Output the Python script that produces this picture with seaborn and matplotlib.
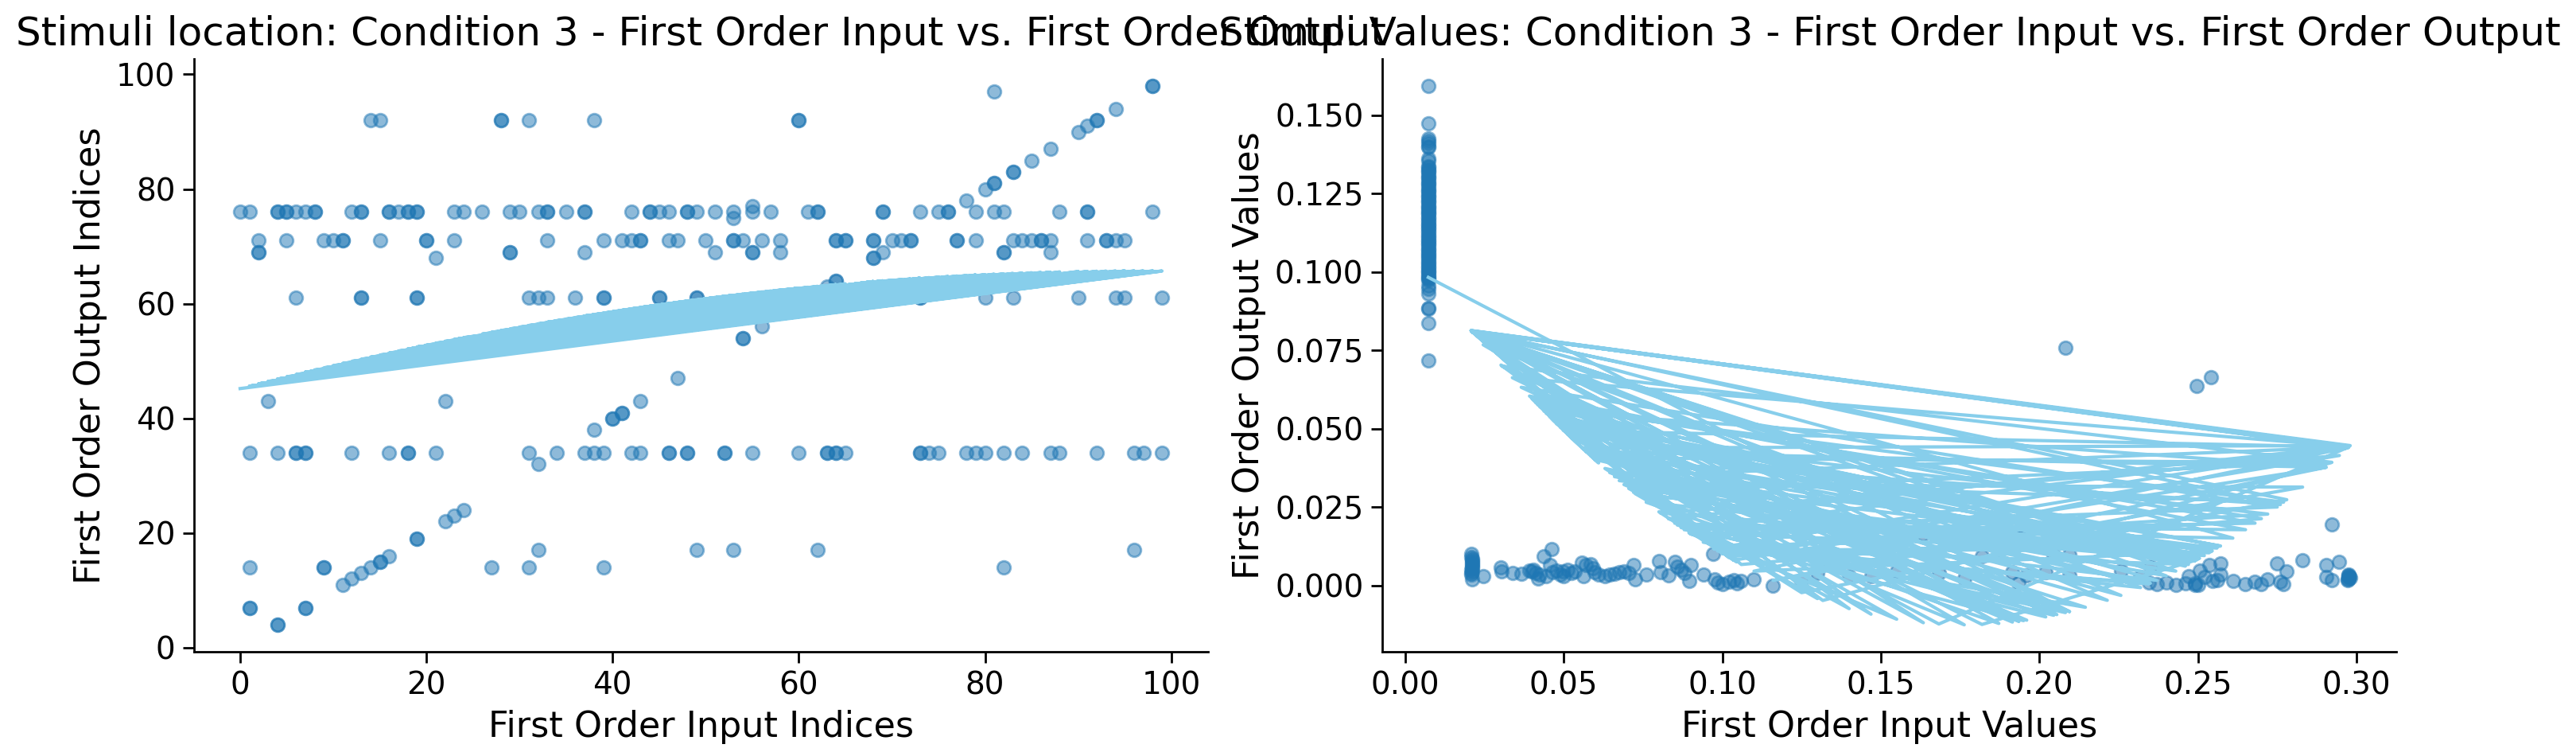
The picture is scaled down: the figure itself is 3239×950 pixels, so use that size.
import numpy as np
import matplotlib
matplotlib.use("Agg")
import matplotlib.pyplot as plt
import seaborn as sns

# ---- Левая панель: индексы (вход -> выход) ----
# строки с одинаковым выходным индексом: входные индексы
out_idx_92 = [14, 15, 28, 28, 31, 38, 60, 60]
out_idx_76 = [0, 1, 4, 4, 5, 5, 6, 7, 8, 8, 12, 13, 13, 16, 16, 17, 18, 18, 19, 19,
              23, 24, 26, 29, 30, 32, 33, 33, 35, 37, 37, 42, 44, 44, 45, 46, 48, 48,
              49, 51, 53, 55, 57, 61, 62, 62, 69, 69, 73, 75, 76, 76, 79, 81, 82, 88,
              91, 91, 98]
out_idx_71 = [2, 5, 9, 10, 11, 11, 15, 20, 20, 23, 33, 39, 41, 42, 43, 43, 46, 47, 50,
              53, 53, 54, 56, 58, 64, 64, 65, 65, 68, 68, 70, 71, 72, 72, 77, 77, 79,
              83, 84, 85, 86, 86, 87, 91, 93, 93, 94, 95]
out_idx_69 = [2, 2, 29, 29, 37, 51, 55, 55, 58, 69, 82, 82, 87]
out_idx_61 = [6, 13, 13, 19, 19, 31, 32, 33, 36, 39, 39, 45, 45, 49, 49, 56, 73, 73,
              80, 83, 90, 94, 95, 99]
out_idx_34 = [1, 4, 6, 6, 7, 7, 12, 16, 18, 18, 21, 31, 34, 37, 38, 39, 42, 43, 46, 46,
              48, 48, 52, 52, 55, 60, 63, 63, 64, 64, 65, 73, 73, 74, 75, 78, 79, 80,
              82, 84, 87, 88, 92, 96, 97, 99]
# точки на диагонали (выход == вход)
diag_idx = [4, 4, 7, 7, 11, 12, 13, 14, 15, 15, 16, 19, 19, 22, 23, 24, 32, 38, 40, 40,
            41, 41, 43, 47, 54, 54, 56, 59, 63, 64, 64, 68, 68, 78, 80, 81, 81, 83, 83,
            85, 87, 90, 91, 92, 92, 94, 98, 98]
# отдельные точки
misc_in_idx = [1, 1, 9, 9, 1, 27, 31, 39, 82, 32, 49, 53, 62, 96, 3, 22, 81, 53, 55, 21]
misc_out_idx = [7, 7, 14, 14, 14, 14, 14, 14, 14, 17, 17, 17, 17, 17, 43, 43, 97, 75, 77, 68]

# коэффициенты полинома (2-я степень) для индексов
idx_fit = [-0.00217, 0.422, 45.2]

# ---- Правая панель: значения ----
col_in_val = 0.0073
col_out_val = [0.1593, 0.1473, 0.1426, 0.1418, 0.1409, 0.1401, 0.1397, 0.1363, 0.1354,
               0.1337, 0.1334, 0.1326, 0.1321, 0.1318, 0.1309, 0.1302, 0.1300, 0.1291,
               0.1283, 0.1280, 0.1272, 0.1266, 0.1259, 0.1257, 0.1248, 0.1241, 0.1239,
               0.1230, 0.1224, 0.1221, 0.1213, 0.1207, 0.1205, 0.1196, 0.1192, 0.1186,
               0.1183, 0.1175, 0.1171, 0.1163, 0.1160, 0.1152, 0.1149, 0.1141, 0.1139,
               0.1130, 0.1127, 0.1119, 0.1112, 0.1108, 0.1101, 0.1097, 0.1090, 0.1088,
               0.1079, 0.1072, 0.1070, 0.1063, 0.1058, 0.1051, 0.1046, 0.1043, 0.1034,
               0.1030, 0.1024, 0.1017, 0.1015, 0.1006, 0.1001, 0.0998, 0.0992, 0.0987,
               0.0981, 0.0978, 0.0973, 0.0956, 0.0946, 0.0931, 0.0886, 0.0882, 0.0837,
               0.0717]

low_in_val = [0.2095, 0.0210, 0.1469, 0.0500, 0.2975, 0.0208, 0.2975, 0.0660, 0.2400, 0.0212,
              0.1935, 0.0366, 0.2750, 0.0880, 0.2972, 0.0210, 0.2975, 0.1683, 0.0456, 0.2570,
              0.1000, 0.0209, 0.2214, 0.0592, 0.2921, 0.1317, 0.0302, 0.2045, 0.0830, 0.2978,
              0.0211, 0.1872, 0.0760, 0.2490, 0.0412, 0.2700, 0.1060, 0.0210, 0.2980, 0.0558,
              0.2145, 0.0940, 0.2319, 0.0246, 0.1763, 0.0690, 0.2830, 0.1160, 0.2904, 0.0438,
              0.2082, 0.0870, 0.2610, 0.0208, 0.2055, 0.0525, 0.1915, 0.0338, 0.2976, 0.0972,
              0.2345, 0.0630, 0.1250, 0.2780, 0.0211, 0.1634, 0.0478, 0.2520, 0.0805, 0.2946,
              0.1020, 0.0209, 0.2257, 0.0585, 0.2496, 0.1819, 0.0400, 0.2680, 0.0900, 0.1950,
              0.0305, 0.2922, 0.0720, 0.2430, 0.0210, 0.2973, 0.1100, 0.2541, 0.0461, 0.1960,
              0.0645, 0.2560, 0.0850, 0.2370, 0.0418, 0.2095, 0.0512, 0.2720, 0.0975, 0.2470,
              0.0212, 0.1935, 0.0570, 0.2904, 0.1035, 0.0392, 0.2650, 0.0858, 0.2020, 0.0445,
              0.2505, 0.0705, 0.1400, 0.0208, 0.2760, 0.0598, 0.2350, 0.0985, 0.2571, 0.0498,
              0.1550, 0.0895, 0.2535, 0.0425, 0.2770, 0.0675, 0.2545, 0.0562, 0.2500, 0.0490,
              0.2460, 0.0210, 0.1300, 0.0725, 0.2490, 0.0800, 0.1045, 0.0465, 0.0610, 0.0535,
              0.0405]
low_out_val = [0.0033, 0.0080, 0.0030, 0.0030, 0.0030, 0.0100, 0.0022, 0.0038, 0.0010, 0.0060,
               0.0175, 0.0037, 0.0071, 0.0040, 0.0018, 0.0045, 0.0035, 0.0040, 0.0066, 0.0071,
               0.0005, 0.0090, 0.0145, 0.0056, 0.0018, 0.0068, 0.0058, 0.0097, 0.0033, 0.0028,
               0.0070, 0.0114, 0.0036, 0.0006, 0.0040, 0.0004, 0.0014, 0.0055, 0.0025, 0.0072,
               0.0140, 0.0036, 0.0028, 0.0030, 0.0023, 0.0046, 0.0080, 0.0000, 0.0028, 0.0093,
               0.0759, 0.0050, 0.0015, 0.0040, 0.0152, 0.0040, 0.0043, 0.0039, 0.0032, 0.0101,
               0.0010, 0.0030, 0.0015, 0.0044, 0.0085, 0.0165, 0.0048, 0.0028, 0.0043, 0.0076,
               0.0012, 0.0035, 0.0048, 0.0068, 0.0636, 0.0093, 0.0044, 0.0012, 0.0065, 0.0160,
               0.0046, 0.0194, 0.0065, 0.0003, 0.0075, 0.0020, 0.0019, 0.0664, 0.0117, 0.0033,
               0.0034, 0.0017, 0.0075, 0.0005, 0.0022, 0.0097, 0.0050, 0.0020, 0.0020, 0.0030,
               0.0065, 0.0006, 0.0064, 0.0065, 0.0018, 0.0048, 0.0004, 0.0060, 0.0043, 0.0030,
               0.0048, 0.0040, 0.0030, 0.0050, 0.0012, 0.0042, 0.0060, 0.0010, 0.0035, 0.0044,
               0.0045, 0.0014, 0.0065, 0.0035, 0.0005, 0.0042, 0.0015, 0.0030, 0.0002, 0.0036,
               0.0008, 0.0020, 0.0040, 0.0020, 0.0003, 0.0077, 0.0008, 0.0042, 0.0036, 0.0046,
               0.0050]

# коэффициенты полинома (2-я степень) для значений
val_fit = [3.87, -1.366, 0.1080]

point_color = "#1f77b4"
fit_color = "skyblue"

# Сборка массивов
idx_rows = [(92, out_idx_92), (76, out_idx_76), (71, out_idx_71), (69, out_idx_69),
            (61, out_idx_61), (34, out_idx_34)]
idx_in = np.concatenate([np.array(r, dtype=float) for _, r in idx_rows]
                        + [np.array(diag_idx, float), np.array(misc_in_idx, float)])
idx_out = np.concatenate([np.full(len(r), v, dtype=float) for v, r in idx_rows]
                         + [np.array(diag_idx, float), np.array(misc_out_idx, float)])

# порядок следования выборок для линии (чередование краёв)
srt = np.sort(idx_in)
lo, hi = 0, len(srt) - 1
line_idx_x = []
while lo <= hi:
    line_idx_x.append(srt[lo])
    if lo != hi:
        line_idx_x.append(srt[hi])
    lo += 1
    hi -= 1
line_idx_x = np.array(line_idx_x)

val_in = np.concatenate([np.full(len(col_out_val), col_in_val), low_in_val])
val_out = np.concatenate([col_out_val, low_out_val])

# Рисунок
fig = plt.figure(figsize=(3239 / 200, 950 / 200), dpi=200)
ax1 = fig.add_axes([244 / 3239, 131 / 950, 1275 / 3239, 745 / 950])
ax2 = fig.add_axes([1738 / 3239, 131 / 950, 1275 / 3239, 745 / 950])

sns.scatterplot(x=idx_in, y=idx_out, ax=ax1, color=point_color, alpha=0.5, s=36,
                edgecolor=point_color, linewidth=1.0)
sns.lineplot(x=line_idx_x, y=np.polyval(idx_fit, line_idx_x), ax=ax1, sort=False,
             estimator=None, color=fit_color, linewidth=1.5)
ax1.set_title("Stimuli location: Condition 3 - First Order Input vs. First Order Output",
              fontsize=18)
ax1.set_xlabel("First Order Input Indices", fontsize=16)
ax1.set_ylabel("First Order Output Indices", fontsize=16)

sns.scatterplot(x=val_in, y=val_out, ax=ax2, color=point_color, alpha=0.5, s=36,
                edgecolor=point_color, linewidth=1.0)
sns.lineplot(x=val_in, y=np.polyval(val_fit, val_in), ax=ax2, sort=False,
             estimator=None, color=fit_color, linewidth=1.5)
ax2.set_title("Stimuli Values: Condition 3 - First Order Input vs. First Order Output",
              fontsize=18)
ax2.set_xlabel("First Order Input Values", fontsize=16)
ax2.set_ylabel("First Order Output Values", fontsize=16)

for ax in (ax1, ax2):
    sns.despine(ax=ax)
    ax.tick_params(labelsize=14, length=5, width=1.0)
    for sp in ax.spines.values():
        sp.set_linewidth(1.0)

fig.savefig("out.png", dpi=200)
